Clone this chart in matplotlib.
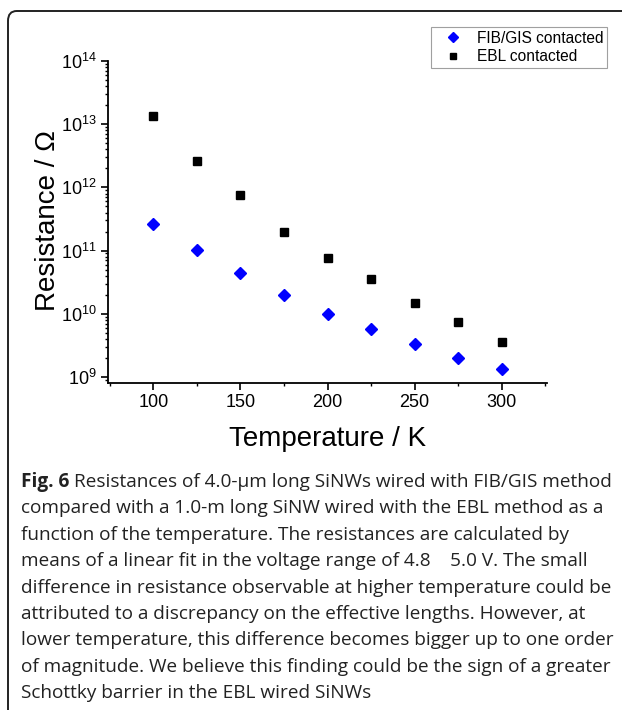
import numpy as np
import matplotlib
matplotlib.use('Agg')
import matplotlib.pyplot as plt
from matplotlib.patches import FancyBboxPatch
from matplotlib.ticker import MultipleLocator, LogLocator

plt.rcParams['font.family'] = 'Liberation Sans'

# data
temperature = [100, 125, 150, 175, 200, 225, 250, 275, 300]
r_fib = [2.6e11, 1.03e11, 4.5e10, 2.0e10, 1.0e10, 5.8e9, 3.35e9, 2.03e9, 1.32e9]
r_ebl = [1.35e13, 2.65e12, 7.5e11, 1.95e11, 7.5e10, 3.5e10, 1.48e10, 7.4e9, 3.6e9]

labels = ['FIB/GIS contacted', 'EBL contacted']

caption_lines = [
    'Resistances of 4.0-\u00b5m long SiNWs wired with FIB/GIS method',
    'compared with a 1.0-m long SiNW wired with the EBL method as a',
    'function of the temperature. The resistances are calculated by',
    'means of a linear fit in the voltage range of 4.8    5.0 V. The small',
    'difference in resistance observable at higher temperature could be',
    'attributed to a discrepancy on the effective lengths. However, at',
    'lower temperature, this difference becomes bigger up to one order',
    'of magnitude. We believe this finding could be the sign of a greater',
    'Schottky barrier in the EBL wired SiNWs',
]

W, H = 622, 710
fig = plt.figure(figsize=(W / 100, H / 100), dpi=100)

# rounded frame (open at right/bottom, cropped)
frame = FancyBboxPatch((8 / W, -0.05), 1.2, 1 - 11 / H + 0.05,
                       boxstyle='round,pad=0,rounding_size=0.014',
                       transform=fig.transFigure, fill=False,
                       edgecolor='#222222', lw=1.4)
fig.patches.append(frame)

ax = fig.add_axes([108 / W, 1 - 383 / H, 439 / W, 322 / H])
ax.semilogy(temperature, r_fib, 'D', color='#0000ff', ms=6.2, label=labels[0])
ax.semilogy(temperature, r_ebl, 's', color='black', ms=5.5, label=labels[1])

ax.set_xlim(74, 326)
ax.set_ylim(10 ** 8.905, 1e14)
ax.xaxis.set_major_locator(MultipleLocator(50))
ax.xaxis.set_minor_locator(MultipleLocator(50, offset=25))
ax.yaxis.set_major_locator(LogLocator(base=10, numticks=20))
ax.yaxis.set_minor_locator(LogLocator(base=10, subs=np.arange(2, 10), numticks=20))

for s in ['top', 'right']:
    ax.spines[s].set_visible(False)
for s in ['left', 'bottom']:
    ax.spines[s].set_linewidth(1.3)
ax.tick_params(which='major', direction='out', length=5, width=1.2, labelsize=13, pad=3)
ax.tick_params(which='minor', direction='out', length=2.5, width=1.0)

ax.set_xlabel('Temperature / K', fontsize=20)
ax.set_ylabel('Resistance / \u03a9', fontsize=20)
ax.xaxis.set_label_coords(0.5, -0.134)
ax.yaxis.set_label_coords(-0.107, 0.506)

leg = ax.legend(loc='upper right', bbox_to_anchor=(607 / W, 1 - 27 / H),
                bbox_transform=fig.transFigure, fontsize=11.2, frameon=True,
                fancybox=False, edgecolor='#888888', borderpad=0.25,
                labelspacing=0.22, handlelength=2.4, handletextpad=0.3,
                borderaxespad=0, markerscale=0.75)
leg.get_frame().set_linewidth(0.8)

# caption: fit the longest line to the width seen in the reference
x0 = 21 / W
y0 = 1 - 487 / H
dy = 26.4 / H
probe = fig.text(x0, y0, caption_lines[7], family='Open Sans', fontsize=14)
fig.canvas.draw()
cap_size = 14 * (613 - 21) / probe.get_window_extent().width
probe.remove()

cap_font = dict(family='Open Sans', fontsize=cap_size, color='#222222')
bold = fig.text(x0, y0, 'Fig. 6 ', fontweight='bold', va='baseline', **cap_font)
fig.canvas.draw()
bb = bold.get_window_extent()
fig.text(bb.x1 / W, y0, caption_lines[0], va='baseline', **cap_font)
for i, line in enumerate(caption_lines[1:], start=1):
    fig.text(x0, y0 - i * dy, line, va='baseline', **cap_font)

fig.savefig('out.png', dpi=100)
